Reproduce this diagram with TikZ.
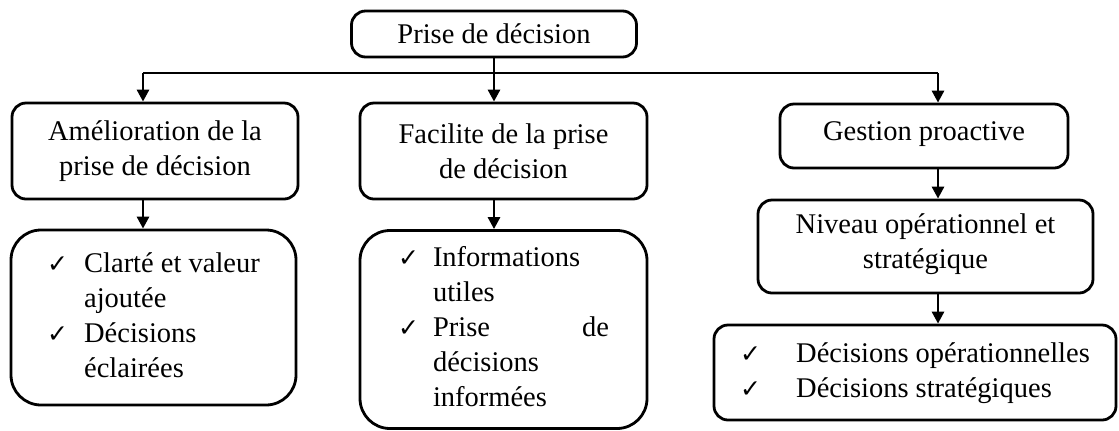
\documentclass[tikz,border=0pt]{standalone}
\usepackage{fontspec}
\setmainfont{Liberation Serif}
\newfontfamily\symfont{DejaVu Sans}
\usetikzlibrary{arrows.meta}
\tikzset{
    boite/.style={draw,line width=1.4pt,rounded corners=7pt,align=center,inner sep=0pt},
    liste/.style={draw,line width=1.4pt,rounded corners=15pt,inner sep=0pt},
    trait/.style={line width=1.4pt},
    fleche/.style={line width=1.4pt,-{Triangle[width=6pt,length=6pt]}}
}
\newcommand{\coche}{{\symfont\fontsize{12.5}{12.5}\selectfont ✓}}
\newcommand{\texte}{\fontsize{14.25}{17.5}\selectfont}
\begin{document}
\begin{tikzpicture}[x=0.5pt,y=-0.5pt,font=\texte]
        \useasboundingbox (0,0) rectangle (1119,430);
        \node[boite,minimum width=142.5pt,minimum height=23pt] (top) at (494,34) {Prise de décision};
        \node[boite,minimum width=143pt,minimum height=48pt] (b1) at (155,151) {Amélioration de la\\prise de décision};
        \node[boite,minimum width=143.5pt,minimum height=48pt] (b2) at (503.5,151) {Facilite de la prise\\de décision};
        \node[boite,minimum width=144pt,minimum height=32pt] (b3) at (924,136) {Gestion proactive\rule[-5pt]{0pt}{0pt}};
        \node[boite,minimum width=167.5pt,minimum height=46.5pt] (niv) at (925.5,246.5) {Niveau opérationnel et\\stratégique\rule[-5pt]{0pt}{0pt}};
        \node[liste,minimum width=142.5pt,minimum height=87.5pt] (l1) at (153.5,317.5) {%
            \begin{tabular}{@{}p{18.5pt}@{}l@{}}
                \coche & Clarté et valeur\\
                       & ajoutée\\
                \coche & Décisions\\
                       & éclairées
            \end{tabular}};
        \node[liste,minimum width=143.5pt,minimum height=99pt] (l2) at (503.5,329.5) {%
            \begin{tabular}{@{}p{17.5pt}@{}l@{}}
                \coche & Informations\\
                       & utiles\\
                \coche & \makebox[88pt][s]{Prise\hfill de}\\
                       & décisions\\
                       & informées
            \end{tabular}};
        \node[boite,minimum width=201pt,minimum height=47.5pt] (l3) at (915,372.5) {%
            \begin{tabular}{@{}p{28pt}@{}l@{}}
                \coche & Décisions opérationnelles\\
                \coche & Décisions stratégiques
            \end{tabular}};
        \coordinate (busg) at (143,73);
        \coordinate (busd) at (938,73);
        \draw[trait] (busg) -- (busd);
        \draw[trait] (top.south) -- (top.south |- busg);
        \draw[fleche] (busg) -- (busg |- b1.north);
        \draw[fleche] (top.south |- busg) -- (top.south |- b2.north);
        \draw[fleche] (busd) -- (busd |- b3.north);
        \draw[fleche] (b1.south -| busg) -- (l1.north -| busg);
        \draw[fleche] (b2.south -| top.south) -- (l2.north -| top.south);
        \draw[fleche] (b3.south -| busd) -- (niv.north -| busd);
        \draw[fleche] (niv.south -| busd) -- (l3.north -| busd);
    \end{tikzpicture}
\end{document}
